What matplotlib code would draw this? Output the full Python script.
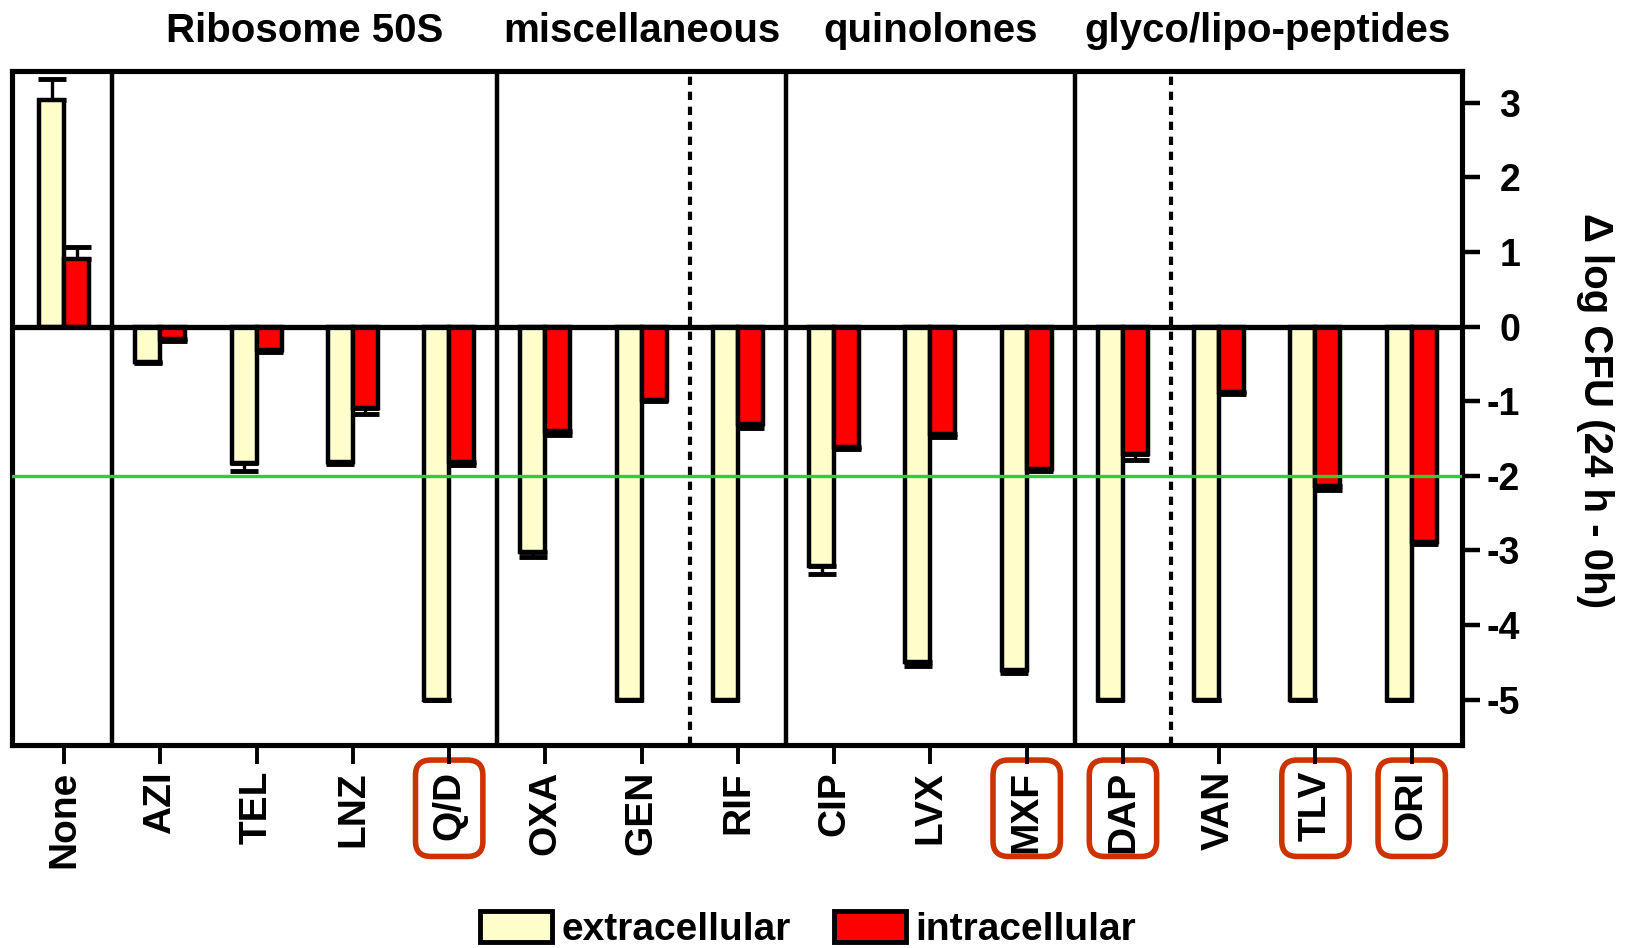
import numpy as np
import matplotlib
matplotlib.use("Agg")
import matplotlib.pyplot as plt
import matplotlib.transforms as mtransforms
from matplotlib.patches import FancyBboxPatch, Patch

plt.rcParams['font.family'] = ['Liberation Sans', 'DejaVu Sans']
plt.rcParams['font.weight'] = 'bold'
plt.rcParams['axes.unicode_minus'] = False

# -----------------------------
# DATA
# -----------------------------
drugs = ["None", "AZI", "TEL", "LNZ", "Q/D", "OXA", "GEN", "RIF",
         "CIP", "LVX", "MXF", "DAP", "VAN", "TLV", "ORI"]
extracellular = [3.03, -0.47, -1.83, -1.81, -5.0, -3.02, -5.0, -5.0,
                 -3.21, -4.50, -4.60, -5.0, -5.0, -5.0, -5.0]
extra_err = [0.29, 0.02, 0.10, 0.03, 0.0, 0.07, 0.0, 0.0,
             0.10, 0.05, 0.04, 0.0, 0.0, 0.0, 0.0]
intracellular = [0.90, -0.17, -0.31, -1.09, -1.81, -1.40, -0.98, -1.31,
                 -1.62, -1.44, -1.91, -1.71, -0.88, -2.13, -2.88]
intra_err = [0.17, 0.02, 0.03, 0.08, 0.04, 0.05, 0.02, 0.05,
             0.02, 0.04, 0.02, 0.08, 0.03, 0.06, 0.03]

highlighted = ["Q/D", "MXF", "DAP", "TLV", "ORI"]
groups = ["Ribosome 50S", "miscellaneous", "quinolones", "glyco/lipo-peptides"]
group_bounds = [0.5, 4.5, 7.5, 10.5, 14.5]     # solid separators between groups
sub_bounds = [6.5, 11.5]                        # dashed separators
threshold = -2

BAR_W = 0.26

fig = plt.figure(figsize=(16.26, 9.48), dpi=100)
ax = fig.add_axes([0.0075, 0.2146, 0.8915, 0.711])

x = np.arange(len(drugs))
ext = np.array(extracellular)
intr = np.array(intracellular)

def one_sided(vals, errs):
    # error bar only in the direction of the bar
    vals = np.asarray(vals)
    errs = np.asarray(errs)
    lower = np.where(vals < 0, errs, 0)
    upper = np.where(vals >= 0, errs, 0)
    return [lower, upper]

ax.bar(x - BAR_W / 2, ext, BAR_W, color="#FFFFCC", edgecolor="black",
       linewidth=3.2, zorder=3)
ax.bar(x + BAR_W / 2, intr, BAR_W, color="#FF0000", edgecolor="black",
       linewidth=3.2, zorder=3)
ax.errorbar(x - BAR_W / 2, ext, yerr=one_sided(ext, extra_err), fmt="none",
            ecolor="black", elinewidth=2.4, capsize=10, capthick=3.5, zorder=2)
ax.errorbar(x + BAR_W / 2, intr, yerr=one_sided(intr, intra_err), fmt="none",
            ecolor="black", elinewidth=2.4, capsize=10, capthick=3.5, zorder=2)

# zero line and threshold line
ax.axhline(0, color="black", linewidth=3.8, zorder=4)
ax.axhline(threshold, color="#33CC33", linewidth=2.4, zorder=5)

# group separators
for b in group_bounds[:-1]:
    ax.axvline(b, color="black", linewidth=3.2, zorder=4)
for b in sub_bounds:
    ax.axvline(b, color="black", linewidth=3, linestyle=(0, (2.0, 1.6)), zorder=1)

ax.set_xlim(-0.54, 14.52)
ax.set_ylim(-5.6, 3.43)

# group titles above the plot
trans = mtransforms.blended_transform_factory(ax.transData, ax.transAxes)
for name, lo, hi in zip(groups, group_bounds[:-1], group_bounds[1:]):
    ax.text((lo + hi) / 2, 1.058, name, transform=trans, ha="center",
            va="center", fontsize=29, fontweight="bold")

# axes styling
for s in ax.spines.values():
    s.set_linewidth(3.7)

ax.set_xticks(x)
ax.set_xticklabels(drugs, rotation=90, fontsize=28, fontweight="bold")
ax.tick_params(axis="x", direction="out", length=14, width=2.8, pad=5)

ax.yaxis.tick_right()
ax.set_yticks(np.arange(-5, 4))
ax.tick_params(axis="y", direction="out", length=13, width=3.2, pad=29,
               labelsize=27)
for lab in ax.get_yticklabels():
    lab.set_horizontalalignment("right")
    lab.set_fontweight("bold")

fig.text(0.981, 0.567, "\u0394 log CFU (24 h - 0h)",
         rotation=270, ha="center", va="center", fontsize=29,
         fontweight="bold")

# rounded boxes around highlighted labels
for i, d in enumerate(drugs):
    if d in highlighted:
        box = FancyBboxPatch((i - 0.35, -0.166), 0.70, 0.143,
                             boxstyle="round,pad=0,rounding_size=0.16",
                             transform=trans, clip_on=False, fill=False,
                             edgecolor="#CC3300", linewidth=4,
                             mutation_aspect=0.14)
        ax.add_patch(box)

# legend
handles = [Patch(facecolor="#FFFFCC", edgecolor="black", linewidth=3.5,
                 label="extracellular"),
           Patch(facecolor="#FF0000", edgecolor="black", linewidth=3.5,
                 label="intracellular")]
fig.legend(handles=handles, loc="lower center", ncol=2, frameon=False,
           bbox_to_anchor=(0.497, -0.004), borderaxespad=0, borderpad=0.1,
           prop={"weight": "bold", "size": 28}, handlelength=1.85,
           handleheight=0.85, handletextpad=0.25, columnspacing=1.1)

fig.savefig("out.png", dpi=100)
